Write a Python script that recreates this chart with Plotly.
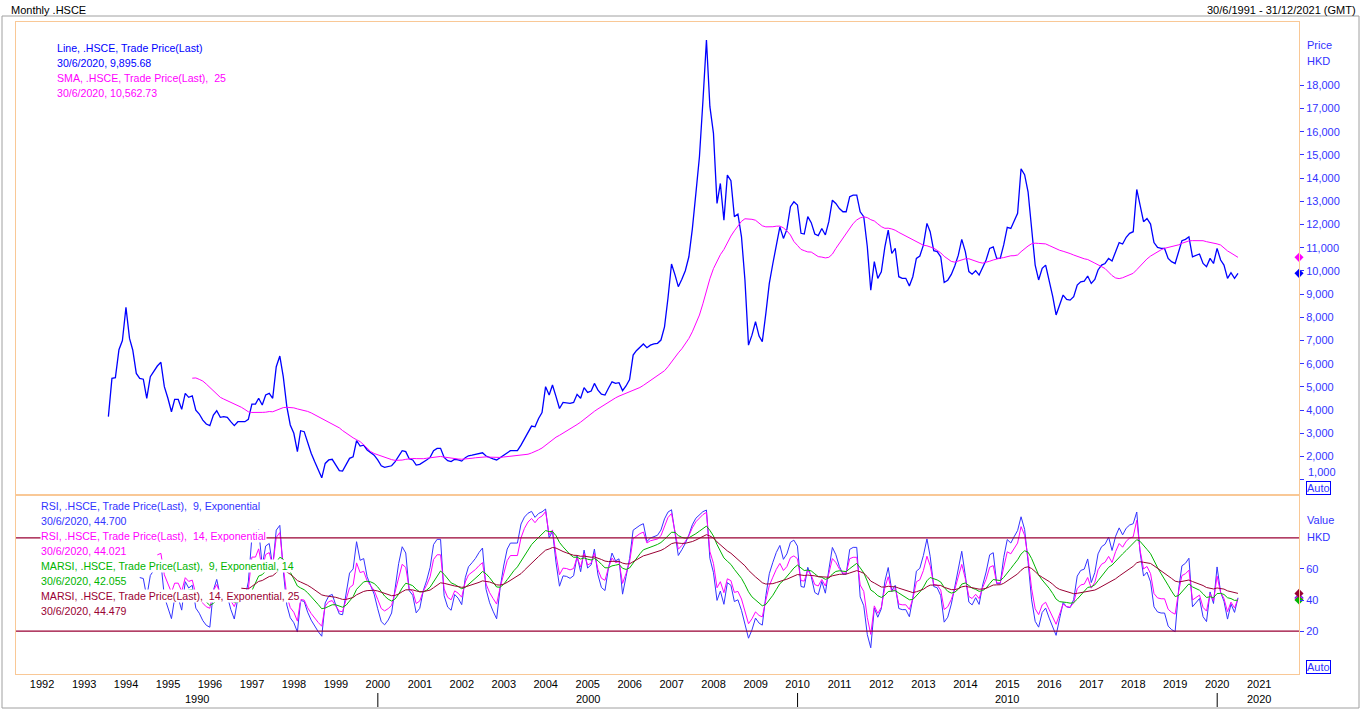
"""
Monthly .HSCE chart: price with SMA 25, RSI / MARSI panel below
"""

import pandas as pd
import plotly.graph_objects as go

# monthly closes, Jul 1993 .. Jun 2020
price_93_99 = [
    3720, 5370, 5400, 6600, 7000, 8430,
    7090, 6590, 5580, 5370, 5330, 4510, 5440, 5700, 5900, 6060, 5010, 4510,
    3930, 4460, 4460, 4030, 4720, 4550, 4610, 4000, 3830, 3570, 3400, 3330,
    3790, 3970, 3690, 3720, 3690, 3500, 3330, 3500, 3500, 3500, 3600, 4260,
    4260, 4510, 4220, 4650, 4720, 4510, 5870, 6330, 5440, 4150, 3360, 3000,
    2210, 3110, 3070, 2570, 2140, 1780, 1420, 1080, 1700, 1850, 1880, 1630,
    1390, 1370, 1630, 1920, 1990, 2680, 2450, 2490, 2280, 2160, 2060, 1850,
]
price_00_06 = [
    1600, 1530, 1560, 1600, 1780, 1990, 2250, 2210, 1900, 1850, 1630, 1660,
    1780, 1850, 1960, 2250, 2350, 2350, 1960, 1820, 1780, 1880, 1850, 1800,
    1950, 2030, 2060, 2090, 2130, 2160, 2020, 1950, 1900, 1850, 1950, 2060,
    2190, 2250, 2250, 2250, 2490, 2740, 3040, 3310, 3280, 3640, 3890, 5010,
    4650, 5080, 4580, 4070, 4330, 4320, 4290, 4330, 4680, 4510, 4970, 4760,
    4820, 5150, 4860, 4690, 4650, 4940, 5220, 5150, 5180, 4840, 5040, 5320,
    6370, 6560, 6730, 6850, 6690, 6800, 6850, 6880, 7020, 7590, 8820, 10300,
]
price_07_13 = [
    9820, 9320, 9640, 10010, 10610, 11800, 13340, 14920, 17290, 19950, 17080, 15930,
    12910, 13770, 12190, 14130, 13890, 12340, 12450, 11470, 9610, 6800, 7230, 7810,
    7190, 6950, 8170, 9460, 10320, 11190, 11900, 11400, 11790, 12770, 12980, 12840,
    11620, 11590, 12340, 12080, 11590, 11520, 11830, 11550, 12120, 13050, 12910, 12690,
    12550, 12550, 13200, 13270, 13270, 12550, 12340, 11040, 9170, 10400, 9680, 9960,
    11040, 11760, 10750, 10970, 9750, 9680, 9680, 9350, 9750, 10540, 10640, 11110,
    12050, 11690, 10870, 10830, 10610, 9500, 9600, 9850, 10210, 10680, 11360, 10830,
]
price_14_20 = [
    9970, 9860, 10010, 9820, 10180, 10470, 10970, 11040, 10540, 10540, 11120, 11880,
    11830, 12120, 12480, 14400, 14150, 13410, 11910, 10250, 9610, 10110, 10250, 9630,
    8890, 8100, 8530, 8960, 8770, 8740, 8890, 9390, 9530, 9560, 9780, 9460,
    9630, 10040, 10250, 10320, 10540, 10430, 10830, 11220, 11160, 11450, 11620, 11690,
    13510, 12770, 12120, 12260, 12020, 11220, 11010, 10970, 10970, 10540, 10400, 10320,
    10830, 11300, 11360, 11470, 10610, 10680, 10730, 10320, 10180, 10540, 10320, 10970,
    10470, 10250, 9680, 9920, 9680, 9895.68,
]

year_ticks = list(range(1992, 2022))
decade_labels = ["1990", "2000", "2010", "2020"]
decade_centres = ["1995-09-10", "2005-01-01", "2015-01-01", "2021-01-01"]
decade_marks = ["2000-01-01", "2010-01-01", "2020-01-01"]
price_ticks = list(range(1000, 19000, 1000))
value_ticks = [20, 40, 60]
overbought, oversold = 80, 20

X_START, X_END = "1991-05-19", "2021-12-13"
W, H = 1362, 710
FONT = "Liberation Sans, Arial, sans-serif"
BLUE, MAGENTA, GREEN, MAROON = "#0000ff", "#ff00ff", "#00b400", "#990033"
AXIS_BLUE = "#3333ff"
ORANGE = "#f9c896"

price = pd.Series(price_93_99 + price_00_06 + price_07_13 + price_14_20, dtype=float)
dates = pd.date_range("1993-07-01", periods=len(price), freq="MS") + pd.offsets.MonthEnd(0)


def rsi(s, n):
    # exponential RSI
    delta = s.diff()
    gain = delta.clip(lower=0)
    loss = -delta.clip(upper=0)
    alpha = 2.0 / (n + 1)
    g = gain.ewm(alpha=alpha, adjust=False, min_periods=n).mean()
    l = loss.ewm(alpha=alpha, adjust=False, min_periods=n).mean()
    return 100 - 100 / (1 + g / l)


sma25 = price.rolling(25).mean()
rsi9 = rsi(price, 9)
rsi14 = rsi(price, 14)
marsi9 = rsi9.ewm(span=14, adjust=False, min_periods=14).mean()
marsi14 = rsi14.ewm(span=25, adjust=False, min_periods=25).mean()


def px(v):
    return v / W


def py(v):
    return 1 - v / H


fig = go.Figure()
fig.add_trace(go.Scatter(x=dates, y=price, mode="lines", line=dict(color=BLUE, width=1.3),
                         xaxis="x", yaxis="y"))
fig.add_trace(go.Scatter(x=dates, y=sma25, mode="lines", line=dict(color=MAGENTA, width=1),
                         xaxis="x", yaxis="y"))
for s, c in [(rsi9, AXIS_BLUE), (rsi14, MAGENTA), (marsi9, GREEN), (marsi14, MAROON)]:
    fig.add_trace(go.Scatter(x=dates, y=s, mode="lines", line=dict(color=c, width=1),
                             xaxis="x2", yaxis="y2"))

# last-value diamonds on the right edge
for s, c, ya in [(sma25, MAGENTA, "y"), (price, BLUE, "y"),
                 (rsi9, AXIS_BLUE, "y2"), (rsi14, MAGENTA, "y2"),
                 (marsi9, GREEN, "y2"), (marsi14, MAROON, "y2")]:
    fig.add_trace(go.Scatter(x=[X_END], y=[s.iloc[-1]], mode="markers", cliponaxis=False,
                             marker=dict(symbol="diamond", size=7, color=c),
                             xaxis="x" if ya == "y" else "x2", yaxis=ya))

x_dom = [px(16), px(1299)]
common_x = dict(domain=x_dom, range=[X_START, X_END], showgrid=False, zeroline=False,
                showline=True, linecolor=ORANGE, mirror=True)
fig.update_layout(
    width=W, height=H, margin=dict(l=0, r=0, t=0, b=0),
    paper_bgcolor="white", plot_bgcolor="white", showlegend=False,
    font=dict(family=FONT, size=11, color="black"),
    xaxis=dict(common_x, anchor="y", showticklabels=False, ticks=""),
    xaxis2=dict(common_x, anchor="y2", matches="x", ticks="",
                tickmode="array", tickvals=[f"{y}-01-01" for y in year_ticks],
                ticktext=[str(y) for y in year_ticks],
                tickfont=dict(family=FONT, size=11, color="black")),
    yaxis=dict(domain=[py(495), py(22)], range=[340, 20730], side="right", anchor="x",
               tickmode="array", tickvals=price_ticks,
               # the 1,000 label sits above its tick (drawn separately), clear of "Auto"
               ticktext=[""] + [f"{v:,}" for v in price_ticks[1:]],
               ticks="outside", ticklen=4, tickcolor=AXIS_BLUE,
               tickfont=dict(family=FONT, size=11, color=AXIS_BLUE),
               showgrid=False, zeroline=False, showline=True, linecolor=ORANGE, mirror=True),
    yaxis2=dict(domain=[py(674), py(495)], range=[-7.7, 107.7], side="right", anchor="x2",
                tickvals=value_ticks, ticks="outside", ticklen=4, tickcolor=AXIS_BLUE,
                tickfont=dict(family=FONT, size=11, color=AXIS_BLUE),
                showgrid=False, zeroline=False, showline=True, linecolor=ORANGE, mirror=True),
)

shapes = []
for lvl in (overbought, oversold):
    shapes.append(dict(type="line", xref="x2 domain", yref="y2", x0=0, x1=1, y0=lvl, y1=lvl,
                       line=dict(color=MAROON, width=1.2)))
for d in decade_marks:
    shapes.append(dict(type="line", xref="x2", yref="paper", x0=d, x1=d, y0=py(707), y1=py(693),
                       line=dict(color="black", width=1)))
# outer grey frame
shapes.append(dict(type="rect", xref="paper", yref="paper", x0=px(2), x1=px(1359),
                   y0=py(708), y1=py(16), line=dict(color="#a0a0a0", width=1)))
fig.update_layout(shapes=shapes)

ann = []


def text(x, y, s, color="black", size=11, anchor="left", bg=None):
    ann.append(dict(xref="paper", yref="paper", x=px(x), y=py(y), text=s, showarrow=False,
                    xanchor=anchor, yanchor="middle", align=anchor,
                    font=dict(family=FONT, size=size, color=color),
                    bgcolor=bg, borderpad=0))


text(10, 10, "Monthly .HSCE")
text(1357, 10, "30/6/1991 - 31/12/2021 (GMT)", anchor="right")

nb = "\u00a0"
price_legend = [
    ("Line, .HSCE, Trade Price(Last)", BLUE),
    ("30/6/2020, 9,895.68", BLUE),
    (f"SMA, .HSCE, Trade Price(Last),{nb} 25", MAGENTA),
    ("30/6/2020, 10,562.73", MAGENTA),
]
for i, (s, c) in enumerate(price_legend):
    text(56, 48 + 15 * i, s, color=c, size=10.6, bg="white")

rsi_legend = [
    (f"RSI, .HSCE, Trade Price(Last),{nb} 9, Exponential", AXIS_BLUE),
    ("30/6/2020, 44.700", AXIS_BLUE),
    (f"RSI, .HSCE, Trade Price(Last),{nb} 14, Exponential", MAGENTA),
    ("30/6/2020, 44.021", MAGENTA),
    (f"MARSI, .HSCE, Trade Price(Last),{nb} 9, Exponential, 14", GREEN),
    ("30/6/2020, 42.055", GREEN),
    (f"MARSI, .HSCE, Trade Price(Last),{nb} 14, Exponential, 25", MAROON),
    ("30/6/2020, 44.479", MAROON),
]
for i, (s, c) in enumerate(rsi_legend):
    text(40, 506 + 15 * i, s, color=c, size=10.6, bg="white")

# right axis captions
text(1306, 45, "Price", color=AXIS_BLUE)
text(1306, 61, "HKD", color=AXIS_BLUE)
text(1307, 472, f"{price_ticks[0]:,}", color=AXIS_BLUE)
text(1306, 520, "Value", color=AXIS_BLUE)
text(1306, 537, "HKD", color=AXIS_BLUE)
for yy in (488, 667):
    ann.append(dict(xref="paper", yref="paper", x=px(1306), y=py(yy), text="Auto",
                    showarrow=False, xanchor="left", yanchor="middle",
                    font=dict(family=FONT, size=11, color=AXIS_BLUE),
                    bordercolor="#0000ff", borderwidth=1, borderpad=0, bgcolor="white"))

# decade row under the years
for lab, c in zip(decade_labels, decade_centres):
    ann.append(dict(xref="x2", yref="paper", x=c, y=py(699), text=lab, showarrow=False,
                    xanchor="center", yanchor="middle",
                    font=dict(family=FONT, size=11, color="black")))

fig.update_layout(annotations=ann)

fig.write_html("out.html", config={"displayModeBar": False},
               post_script="document.body.style.margin='0';document.body.style.overflow='hidden';")
